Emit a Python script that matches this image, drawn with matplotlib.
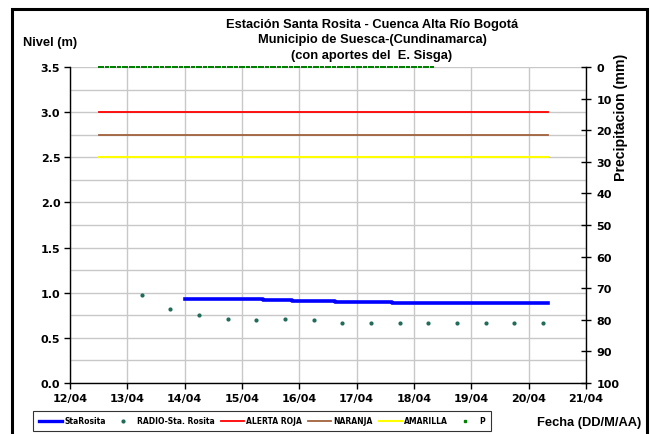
import matplotlib
matplotlib.use('Agg')
import matplotlib.pyplot as plt
import matplotlib.dates as mdates
from matplotlib.patches import Rectangle
from matplotlib.lines import Line2D
import numpy as np
import pandas as pd

# datos
radio_fechas = ['2011-04-13 06:00', '2011-04-13 18:00', '2011-04-14 06:00', '2011-04-14 18:00',
                '2011-04-15 06:00', '2011-04-15 18:00', '2011-04-16 06:00', '2011-04-16 18:00',
                '2011-04-17 06:00', '2011-04-17 18:00', '2011-04-18 06:00', '2011-04-18 18:00',
                '2011-04-19 06:00', '2011-04-19 18:00', '2011-04-20 06:00']
radio_nivel = [0.98, 0.82, 0.755, 0.71, 0.695, 0.71, 0.695, 0.66,
               0.66, 0.66, 0.66, 0.66, 0.66, 0.66, 0.66]

sta_fechas = ['2011-04-14 00:00', '2011-04-15 09:00', '2011-04-15 21:00',
              '2011-04-16 15:00', '2011-04-17 15:00', '2011-04-20 08:00']
sta_nivel = [0.925, 0.918, 0.905, 0.898, 0.89, 0.89]

alerta_fechas = ['2011-04-12 12:00', '2011-04-20 08:00']
alerta_roja = [3.0, 3.0]
alerta_naranja = [2.75, 2.75]
alerta_amarilla = [2.5, 2.5]

p_fechas = pd.date_range('2011-04-12 12:00', '2011-04-18 08:00', freq='h')
p_mm = [0.0] * len(p_fechas)

fuente = 'DejaVu Sans'
fuente_tit = 'Liberation Sans'

fig = plt.figure(figsize=(6.5, 4.35), dpi=100)
ax = fig.add_axes([70/650, 1-384/435, (586-70)/650, (384-68)/435])

ax.plot(pd.to_datetime(alerta_fechas), alerta_roja, color='#ff0000', lw=1.3, zorder=3)
ax.plot(pd.to_datetime(alerta_fechas), alerta_naranja, color='#a0623c', lw=1.3, zorder=3)
ax.plot(pd.to_datetime(alerta_fechas), alerta_amarilla, color='#ffff00', lw=1.5, zorder=3)
ax.plot(pd.to_datetime(sta_fechas), sta_nivel, color='#0000ff', lw=2.6,
        drawstyle='steps-post', zorder=4)
ax.plot(pd.to_datetime(radio_fechas), radio_nivel, ls='none', marker='o', ms=2.0,
        color='#1f6b57', zorder=4)

ax.set_xlim(pd.Timestamp('2011-04-12'), pd.Timestamp('2011-04-21'))
ax.set_ylim(0, 3.5)
ax.xaxis.set_major_locator(mdates.DayLocator())
ax.xaxis.set_major_formatter(mdates.DateFormatter('%d/%m'))
ax.set_yticks(np.arange(0, 3.51, 0.5))
ax.set_yticks(np.arange(0, 3.51, 0.25), minor=True)
ax.yaxis.set_major_formatter(plt.FormatStrFormatter('%.1f'))
ax.grid(axis='y', which='both', color='#c8c8c8', lw=1.0, zorder=0)
ax.grid(axis='x', which='major', color='#c8c8c8', lw=1.0, zorder=0)
ax.set_axisbelow(True)
ax.tick_params(axis='both', which='major', direction='out', length=4, width=1,
               labelsize=8, pad=3)
ax.tick_params(axis='y', which='minor', length=0)
for lab in ax.get_xticklabels() + ax.get_yticklabels():
    lab.set_fontweight('bold')
    lab.set_family(fuente)
for s in ['top', 'right']:
    ax.spines[s].set_visible(False)
ax.spines['left'].set_linewidth(1)
ax.spines['bottom'].set_linewidth(1)

ax2 = ax.twinx()
ax2.plot(p_fechas, p_mm, ls='none', marker='s', ms=1.6, mew=0, color='#008000',
         clip_on=False, zorder=5)
ax2.set_ylim(100, 0)
ax2.set_yticks(np.arange(0, 101, 10))
ax2.tick_params(axis='y', direction='inout', length=7, width=1, labelsize=8, pad=4)
for lab in ax2.get_yticklabels():
    lab.set_fontweight('bold')
    lab.set_family(fuente)
for s in ['top', 'left', 'bottom']:
    ax2.spines[s].set_visible(False)
ax2.spines['right'].set_linewidth(1)

fig.text(372/650, 1-19/435,
         'Estación Santa Rosita - Cuenca Alta Río Bogotá\n'
         'Municipio de Suesca-(Cundinamarca)\n'
         '(con aportes del  E. Sisga)',
         ha='center', va='top', fontsize=9.3, fontweight='bold', family=fuente_tit,
         linespacing=1.38)
fig.text(23/650, 1-43/435, 'Nivel (m)', ha='left', va='center', fontsize=9.3,
         fontweight='bold', family=fuente_tit)
fig.text(621/650, 1-117/435, 'Precipitacion (mm)', ha='center', va='center',
         rotation=90, fontsize=10.2, fontweight='bold', family=fuente_tit)
fig.text(641/650, 1-423/435, 'Fecha (DD/M/AA)', ha='right', va='center', fontsize=9.3,
         fontweight='bold', family=fuente_tit)

handles = [Line2D([], [], color='#0000ff', lw=2.4),
           Line2D([], [], ls='none', marker='o', ms=2, color='#1f6b57'),
           Line2D([], [], color='#ff0000', lw=1.3),
           Line2D([], [], color='#a0623c', lw=1.3),
           Line2D([], [], color='#ffff00', lw=1.5),
           Line2D([], [], ls='none', marker='s', ms=2, color='#008000')]
labels = ['StaRosita', 'RADIO-Sta. Rosita', 'ALERTA ROJA', 'NARANJA', 'AMARILLA', 'P']
leg = fig.legend(handles, labels, loc='center', bbox_to_anchor=(262/650, 1-422/435),
                 ncol=6, prop={'family': fuente, 'weight': 'bold', 'size': 5.5},
                 frameon=True, fancybox=False, edgecolor='black', borderpad=0.75,
                 handlelength=3.0, handletextpad=0.3, columnspacing=0.8,
                 borderaxespad=0)
leg.get_frame().set_linewidth(0.8)

fig.patches.append(Rectangle((12/650, -0.1), (647-12)/650, 1-10/435+0.1,
                             transform=fig.transFigure, fill=False, lw=2.2,
                             ec='black'))

fig.savefig('out.png', dpi=100)
